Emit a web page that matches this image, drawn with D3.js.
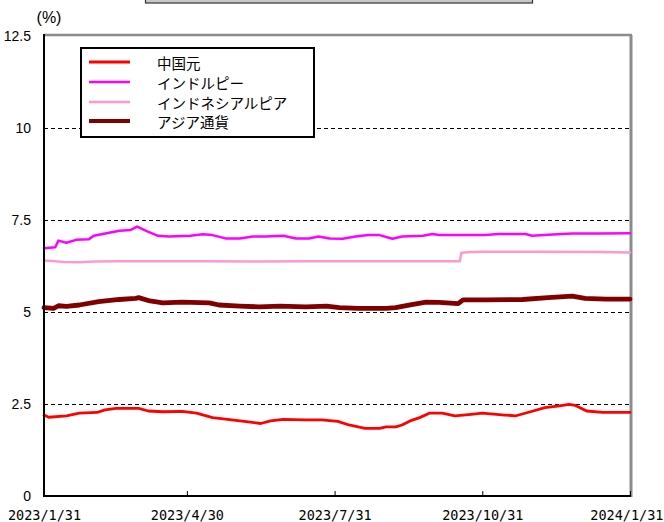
<!DOCTYPE html>
<html>
<head>
<meta charset="utf-8">
<script src="https://cdn.jsdelivr.net/npm/d3@7/dist/d3.min.js"></script>
<style>
  html, body { margin: 0; padding: 0; background: #ffffff; }
  svg { display: block; }
</style>
</head>
<body>
<svg id="chart" width="664" height="522"></svg>
<script>
// Interest-rate series (%), sampled from daily observations
const chinaYuan = [
  ["2023-01-31", 2.20], ["2023-02-03", 2.14], ["2023-02-14", 2.18], ["2023-02-22", 2.25],
  ["2023-03-05", 2.27], ["2023-03-10", 2.34], ["2023-03-17", 2.38], ["2023-03-31", 2.38],
  ["2023-04-06", 2.31], ["2023-04-15", 2.29], ["2023-04-27", 2.30], ["2023-05-06", 2.25],
  ["2023-05-16", 2.13], ["2023-05-24", 2.09], ["2023-06-06", 2.02], ["2023-06-15", 1.97],
  ["2023-06-21", 2.04], ["2023-06-29", 2.08], ["2023-07-13", 2.07], ["2023-07-23", 2.07],
  ["2023-08-02", 2.03], ["2023-08-09", 1.93], ["2023-08-19", 1.84], ["2023-08-28", 1.84],
  ["2023-09-01", 1.88], ["2023-09-07", 1.88], ["2023-09-11", 1.93], ["2023-09-16", 2.04],
  ["2023-09-22", 2.13], ["2023-09-28", 2.25], ["2023-10-06", 2.25], ["2023-10-14", 2.18],
  ["2023-10-24", 2.22], ["2023-10-31", 2.25], ["2023-11-14", 2.20], ["2023-11-21", 2.18],
  ["2023-11-30", 2.29], ["2023-12-09", 2.40], ["2023-12-18", 2.45], ["2023-12-24", 2.49],
  ["2023-12-28", 2.46], ["2024-01-04", 2.31], ["2024-01-14", 2.27], ["2024-01-31", 2.27]
];

const indianRupee = [
  ["2023-01-31", 6.73], ["2023-02-07", 6.76], ["2023-02-09", 6.94], ["2023-02-14", 6.88],
  ["2023-02-20", 6.96], ["2023-02-28", 6.98], ["2023-03-03", 7.07], ["2023-03-11", 7.14],
  ["2023-03-19", 7.21], ["2023-03-26", 7.23], ["2023-03-30", 7.32], ["2023-04-05", 7.20],
  ["2023-04-12", 7.07], ["2023-04-19", 7.05], ["2023-05-02", 7.07], ["2023-05-10", 7.11],
  ["2023-05-16", 7.09], ["2023-05-24", 7.00], ["2023-06-02", 7.00], ["2023-06-10", 7.05],
  ["2023-06-18", 7.05], ["2023-06-29", 7.07], ["2023-07-07", 7.00], ["2023-07-15", 7.00],
  ["2023-07-21", 7.05], ["2023-07-28", 7.00], ["2023-08-05", 6.99], ["2023-08-13", 7.05],
  ["2023-08-21", 7.09], ["2023-08-28", 7.09], ["2023-09-05", 6.99], ["2023-09-11", 7.05],
  ["2023-09-24", 7.07], ["2023-09-30", 7.12], ["2023-10-04", 7.09], ["2023-10-16", 7.09],
  ["2023-11-02", 7.09], ["2023-11-10", 7.12], ["2023-11-27", 7.12], ["2023-12-01", 7.07],
  ["2023-12-11", 7.10], ["2023-12-26", 7.13], ["2024-01-12", 7.13], ["2024-01-31", 7.14]
];

const indonesianRupiah = [
  ["2023-01-31", 6.40], ["2023-02-07", 6.38], ["2023-02-12", 6.36], ["2023-02-22", 6.35],
  ["2023-03-03", 6.37], ["2023-03-19", 6.38], ["2023-05-10", 6.38], ["2023-06-10", 6.37],
  ["2023-07-15", 6.38], ["2023-09-01", 6.38], ["2023-10-17", 6.38], ["2023-10-18", 6.61],
  ["2023-10-24", 6.63], ["2023-11-02", 6.64], ["2023-12-01", 6.64], ["2024-01-12", 6.63],
  ["2024-01-31", 6.62]
];

const asiaCurrency = [
  ["2023-01-31", 5.12], ["2023-02-06", 5.10], ["2023-02-09", 5.17], ["2023-02-14", 5.15],
  ["2023-02-22", 5.19], ["2023-03-06", 5.28], ["2023-03-19", 5.34], ["2023-03-29", 5.37],
  ["2023-03-31", 5.39], ["2023-04-07", 5.30], ["2023-04-15", 5.25], ["2023-04-27", 5.27],
  ["2023-05-14", 5.25], ["2023-05-20", 5.19], ["2023-06-02", 5.16], ["2023-06-14", 5.14],
  ["2023-06-27", 5.16], ["2023-07-13", 5.14], ["2023-07-26", 5.16], ["2023-08-03", 5.12],
  ["2023-08-15", 5.10], ["2023-09-01", 5.10], ["2023-09-07", 5.12], ["2023-09-17", 5.20],
  ["2023-09-26", 5.27], ["2023-10-04", 5.26], ["2023-10-16", 5.23], ["2023-10-19", 5.33],
  ["2023-11-03", 5.33], ["2023-11-25", 5.34], ["2023-12-11", 5.39], ["2023-12-26", 5.43],
  ["2024-01-03", 5.37], ["2024-01-16", 5.35], ["2024-01-31", 5.35]
];

const seriesNames = ["中国元", "インドルピー", "インドネシアルピア", "アジア通貨"];
const xTickDates = ["2023-01-31", "2023-04-30", "2023-07-31", "2023-10-31", "2024-01-31"];
const yTickValues = [0, 2.5, 5, 7.5, 10, 12.5];
const gridValues = [2.5, 5, 7.5, 10];
const yUnitLabel = "(%)";

(function drawChart() {
  const parse = d3.utcParse("%Y-%m-%d");
  const fmtTick = d3.utcFormat("%Y/%-m/%-d");

  const series = [
    { name: seriesNames[0], data: chinaYuan, color: "#ff0000", width: 2.8 },
    { name: seriesNames[1], data: indianRupee, color: "#ff00ff", width: 2.5 },
    { name: seriesNames[2], data: indonesianRupiah, color: "#ff99cc", width: 2.5 },
    { name: seriesNames[3], data: asiaCurrency, color: "#800000", width: 4.8 }
  ];

  const svg = d3.select("#chart");
  const width = +svg.attr("width");
  const plotLeft = 44, plotRight = 631, plotTop = 35, plotBottom = 496;

  const x = d3.scaleUtc()
    .domain([parse(xTickDates[0]), parse(xTickDates[xTickDates.length - 1])])
    .range([plotLeft, 630]);
  const y = d3.scaleLinear().domain([0, 12.5]).range([plotBottom, 36]);

  // title box peeking in at the top edge
  svg.append("rect")
    .attr("x", 145.5).attr("y", -12).attr("width", 387).attr("height", 15)
    .attr("fill", "#c8c8c8").attr("stroke", "#333").attr("stroke-width", 1.2);

  // dashed gridlines
  svg.append("g").selectAll("line").data(gridValues).join("line")
    .attr("x1", plotLeft).attr("x2", 630)
    .attr("y1", d => Math.round(y(d)) + 0.5).attr("y2", d => Math.round(y(d)) + 0.5)
    .attr("stroke", "#000").attr("stroke-width", 1)
    .attr("shape-rendering", "crispEdges")
    .attr("stroke-dasharray", "4,3");

  // plot frame: grey top/right
  svg.append("line").attr("x1", plotLeft).attr("x2", plotRight + 1)
    .attr("y1", plotTop).attr("y2", plotTop)
    .attr("stroke", "#8c8c8c").attr("stroke-width", 2.5);
  svg.append("line").attr("x1", plotRight).attr("x2", plotRight)
    .attr("y1", plotTop).attr("y2", plotBottom + 1)
    .attr("stroke", "#8c8c8c").attr("stroke-width", 3);

  // series lines
  const line = d3.line()
    .x(d => x(parse(d[0])))
    .y(d => y(d[1]));

  svg.append("g").selectAll("path").data(series).join("path")
    .attr("d", d => line(d.data))
    .attr("fill", "none")
    .attr("stroke", d => d.color)
    .attr("stroke-width", d => d.width)
    .attr("stroke-linejoin", "round")
    .attr("stroke-linecap", "round");

  // axes
  const xAxis = d3.axisBottom(x)
    .tickValues(xTickDates.map(parse))
    .tickFormat(fmtTick)
    .tickSize(-5)
    .tickPadding(14);

  const gx = svg.append("g").attr("transform", `translate(0,${plotBottom})`).call(xAxis);
  gx.select(".domain").remove();
  gx.selectAll(".tick line").attr("stroke", "#000").attr("stroke-width", 1);
  gx.selectAll(".tick text")
    .attr("fill", "#000")
    .style("font-family", "'DejaVu Sans Mono', monospace")
    .style("font-size", "13.5px");

  // keep the last date label inside the right edge of the canvas
  gx.selectAll(".tick").filter((d, i, n) => i === n.length - 1).select("text")
    .attr("text-anchor", "end")
    .attr("x", width - 1 - x(parse(xTickDates[xTickDates.length - 1])));

  const yAxis = d3.axisLeft(y)
    .tickValues(yTickValues)
    .tickFormat(d3.format(""))
    .tickSize(0)
    .tickPadding(13);

  const gy = svg.append("g").attr("transform", `translate(${plotLeft},0)`).call(yAxis);
  gy.select(".domain").remove();
  gy.selectAll(".tick text")
    .attr("fill", "#000")
    .style("font-family", "'Liberation Sans', Arial, sans-serif")
    .style("font-size", "14px");

  // black axis lines on left and bottom
  svg.append("line").attr("x1", plotLeft).attr("x2", plotLeft)
    .attr("y1", plotTop - 1).attr("y2", plotBottom + 1)
    .attr("stroke", "#000").attr("stroke-width", 2);
  svg.append("line").attr("x1", plotLeft - 1).attr("x2", plotRight)
    .attr("y1", plotBottom).attr("y2", plotBottom)
    .attr("stroke", "#000").attr("stroke-width", 2);

  // unit label
  svg.append("text")
    .attr("x", 49).attr("y", 17)
    .attr("text-anchor", "middle").attr("dominant-baseline", "central")
    .style("font-family", "'Liberation Sans', Arial, sans-serif")
    .style("font-size", "16px")
    .text(yUnitLabel);

  // legend
  const legend = svg.append("g");
  legend.append("rect")
    .attr("x", 81).attr("y", 48).attr("width", 233).attr("height", 89)
    .attr("fill", "#fff").attr("stroke", "#000").attr("stroke-width", 2);

  const rowY = [62, 82, 102, 121];
  const rows = legend.selectAll("g.row").data(series).join("g")
    .attr("class", "row")
    .attr("transform", (d, i) => `translate(0,${rowY[i]})`);
  rows.append("line")
    .attr("x1", 89).attr("x2", 130).attr("y1", 0).attr("y2", 0)
    .attr("stroke", d => d.color)
    .attr("stroke-width", d => Math.min(d.width, 4));
  rows.append("text")
    .attr("x", 157).attr("y", 0)
    .attr("dominant-baseline", "central")
    .style("font-family", "'Noto Sans CJK JP', sans-serif")
    .style("font-size", "14.5px")
    .attr("fill", "#000")
    .text(d => d.name);
})();
</script>
</body>
</html>
